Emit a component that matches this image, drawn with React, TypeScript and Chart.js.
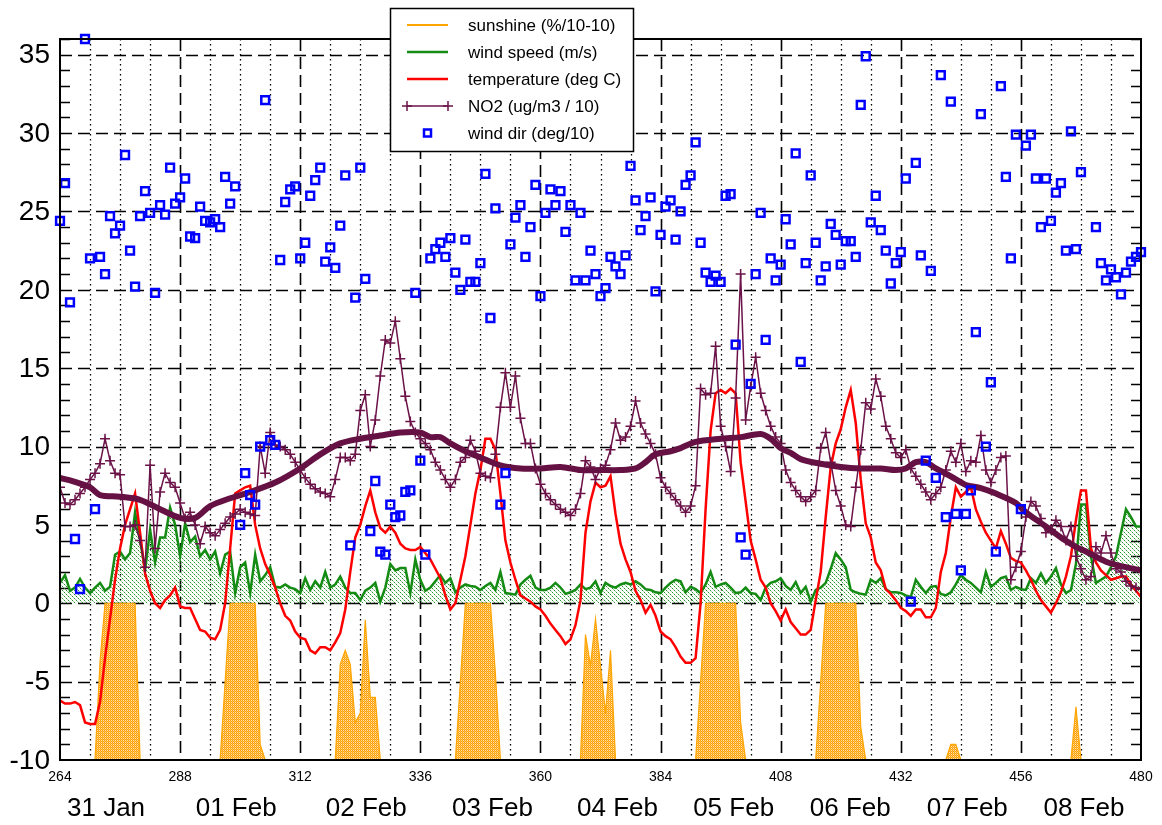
import React, { useEffect, useRef } from 'react';
import { Chart, registerables } from 'chart.js';

Chart.register(...registerables);

const FIRST_HOUR = 264;
const LAST_HOUR = 480;
const X_TICKS = [264, 288, 312, 336, 360, 384, 408, 432, 456, 480];
const Y_TICKS = [-10, -5, 0, 5, 10, 15, 20, 25, 30, 35];
const DAY_LABELS = ['31 Jan', '01 Feb', '02 Feb', '03 Feb', '04 Feb', '05 Feb', '06 Feb', '07 Feb', '08 Feb'];
const DAY_LABEL_HOURS = [273.2, 299.2, 325.2, 350.4, 375.4, 398.6, 421.9, 445.3, 468.6];

// hourly series, hour 264 .. 480
const temperature = [
  -6.2, -6.4, -6.4, -6.3, -6.5, -7.6, -7.7, -7.7, -6.3, -3.5,
  -1.0, 1.5, 3.5, 5.0, 6.0, 7.0, 4.5, 1.9, 0.8, 0.0,
  -0.3, 0.2, 0.5, 1.0, -0.2, -0.3, -0.3, -1.0, -1.7, -1.8,
  -2.2, -2.3, -1.7, 0.0, 3.5, 7.0, 7.2, 7.4, 7.5, 5.0,
  3.5, 2.5, 1.8, 1.0, 0.0, -0.8, -1.1, -1.8, -2.2, -2.3,
  -3.0, -3.2, -2.8, -2.8, -3.0, -2.5, -1.9, -0.4, 2.0, 4.2,
  5.0, 6.2, 7.2, 5.8, 4.8, 4.5, 4.9, 4.5, 3.8, 3.5,
  3.4, 3.4, 3.6, 3.2, 2.8, 2.2, 1.6, 0.5, -0.4, 0.0,
  1.5, 3.0, 5.0, 7.0, 8.5, 10.5, 10.5, 9.8, 7.0, 4.0,
  2.6, 1.5, 0.5, 0.3, 0.1, -0.2, -0.4, -0.8, -1.3, -1.7,
  -2.1, -2.6, -2.3, -1.4, 0.2, 4.5, 6.5, 7.7, 7.4, 7.5,
  8.1, 5.7, 3.8, 2.8, 2.0, 0.8, 0.2, -0.6, -0.1, -0.8,
  -1.8, -2.1, -2.3, -2.8, -3.4, -3.8, -3.8, -3.5, 0.0, 6.0,
  11.0, 13.4, 13.6, 13.4, 13.7, 13.4, 9.0, 6.5, 4.0, 2.8,
  1.5, 1.0, 0.0, -0.5, -1.1, -0.4, -1.2, -1.6, -2.0, -2.0,
  -1.7, 0.2, 2.0, 5.5, 8.7, 10.2, 11.1, 12.5, 13.6, 11.5,
  7.9, 5.1, 4.2, 2.6, 2.1, 0.9, 0.6, 0.2, -0.3, -0.5,
  -0.8, -0.4, -0.4, -0.9, -0.9, -0.3, 2.0, 3.2, 5.5, 7.4,
  6.8, 7.1, 7.4, 6.0, 5.2, 4.5, 4.0, 3.5, 4.6, 3.8,
  2.9, 2.7, 2.6, 2.1, 1.5, 0.8, 0.2, -0.2, -0.6, 0.0,
  0.7, 1.7, 3.0, 5.3, 7.2, 7.2, 3.5, 2.6, 2.1, 1.8,
  1.5, 1.6, 1.7, 1.7, 1.2, 0.8, 0.4,
];

const windSpeed = [
  1.3, 1.8, 0.8, 1.0, 1.55, 1.0, 0.65, 1.0, 1.3, 0.8,
  1.05, 3.1, 3.3, 2.8, 3.2, 5.8, 4.05, 2.1, 4.7, 2.6,
  4.2, 4.2, 6.1, 5.0, 3.0, 5.1, 3.9, 4.25, 3.0, 3.4,
  2.8, 3.3, 1.9, 3.1, 3.3, 0.65, 2.3, 2.6, 0.65, 3.1,
  1.4, 1.8, 2.3, 1.05, 1.0, 1.2, 1.0, 0.9, 0.65, 1.6,
  0.85, 1.4, 1.0, 2.0, 1.0, 1.2, 1.7, 1.0, 0.65, 0.65,
  0.2, 0.8, 1.0, 1.3, 0.1, 1.0, 2.5, 2.1, 2.25, 2.25,
  0.65, 2.8, 1.5, 0.8, 1.0, 1.4, 1.8, 1.3, 1.6, 0.7,
  1.0, 1.2, 1.1, 1.05, 0.85, 1.1, 1.3, 0.85, 2.0, 0.65,
  0.6, 0.55, 1.2, 1.5, 1.75, 1.0, 0.85, 0.85, 1.0, 1.3,
  1.0, 0.6, 0.7, 0.85, 1.2, 0.9, 1.0, 1.4, 0.65, 1.3,
  1.1, 1.0, 1.2, 1.3, 1.2, 1.4, 1.2, 0.9, 0.85, 0.7,
  0.65, 1.0, 1.3, 1.5, 1.4, 0.7, 1.05, 0.9, 0.65, 1.2,
  2.0, 1.05, 1.2, 1.3, 1.0, 0.65, 0.7, 1.0, 0.65, 0.6,
  0.2, 1.0, 1.3, 1.4, 1.6, 1.1, 0.85, 1.35, 0.65, 1.05,
  0.1, 0.85, 1.0, 1.3, 2.2, 3.2, 2.8, 2.3, 0.85, 0.7,
  0.6, 0.55, 1.5, 1.3, 1.6, 0.9, 0.7, 0.7, 0.65, 0.5,
  0.4, 1.5, 1.05, 0.65, 1.05, 1.1, 0.6, 0.5, 0.7, 1.2,
  1.8, 1.5, 1.3, 1.0, 0.7, 2.0, 1.05, 1.3, 1.6, 1.7,
  0.85, 1.05, 0.9, 0.85, 1.6, 1.3, 1.9, 1.3, 1.7, 2.25,
  1.2, 0.65, 0.85, 2.5, 6.3, 6.3, 3.0, 1.3, 1.5, 1.7,
  2.3, 3.0, 4.5, 6.0, 5.5, 4.9, 4.9,
];

const no2 = [
  7.4, 6.4, 6.3, 6.6, 7.0, 7.4, 7.9, 8.3, 8.9, 10.5,
  9.1, 8.3, 8.2, 4.9, 4.9, 5.0, 4.0, 2.3, 8.8, 3.5,
  7.1, 8.3, 7.7, 7.4, 6.4, 5.4, 5.8, 5.0, 3.8, 4.9,
  4.5, 4.3, 4.7, 5.1, 5.5, 5.7, 6.0, 5.8, 5.7, 5.6,
  10.0, 8.3, 10.9, 10.1, 10.0, 9.8, 9.5, 9.0, 8.5, 8.0,
  7.6, 7.3, 7.1, 7.0, 6.8, 7.9, 9.3, 9.3, 9.1, 9.5,
  12.3, 13.3, 10.0, 11.7, 14.5, 16.8, 16.6, 18.0, 15.6, 13.2,
  11.6, 10.9, 10.5, 10.2, 9.8, 9.0, 8.5, 7.9, 7.4, 7.9,
  9.0, 9.3, 10.4, 9.7, 8.3, 8.1, 8.0, 9.5, 12.5, 14.7,
  12.5, 14.5, 11.8, 10.2, 10.2, 8.6, 7.6, 7.0, 6.6, 6.3,
  6.0, 5.8, 5.6, 6.0, 7.0, 9.1, 8.7, 7.9, 8.6, 8.8,
  9.8, 11.5, 10.4, 10.6, 11.3, 12.9, 11.5, 10.8, 10.2, 9.5,
  8.0, 7.4, 7.0, 6.6, 6.2, 5.8, 6.2, 7.5, 13.7, 13.3,
  13.4, 16.4, 11.3, 10.0, 8.4, 13.1, 21.0, 11.7, 13.8, 15.7,
  13.4, 12.3, 11.3, 10.6, 10.2, 8.5, 7.7, 7.2, 6.8, 6.5,
  6.8, 7.2, 9.9, 10.9, 9.0, 7.2, 6.2, 5.0, 4.9, 7.4,
  9.8, 12.8, 12.4, 14.3, 13.2, 11.3, 10.5, 9.6, 9.3, 9.8,
  8.6, 8.1, 7.6, 7.1, 6.6, 7.0, 7.4, 8.5, 9.7, 9.0,
  10.2, 8.4, 9.1, 9.0, 10.7, 8.5, 7.7, 8.5, 9.3, 9.4,
  1.5, 2.3, 3.3, 5.5, 6.5, 6.2, 5.4, 4.5, 4.7, 5.3,
  4.9, 4.0, 4.9, 3.0, 2.2, 1.5, 1.7, 3.6, 3.2, 4.3,
  3.2, 2.2, 2.0, 1.4, 1.1, 1.0, 0.9,
];

const windDir = [
  24.4, 26.8, 19.2, 4.1, 0.9, 36.0, 22.0, 6.0, 22.1, 21.0,
  24.7, 23.6, 24.1, 28.6, 22.5, 20.2, 24.7, 26.3, 24.9, 19.8,
  25.4, 24.8, 27.8, 25.5, 25.9, 27.1, 23.4, 23.3, 25.3, 24.4,
  24.3, 24.5, 24.0, 27.2, 25.5, 26.6, 5.0, 8.3, 6.9, 6.3,
  10.0, 32.1, 10.4, 10.1, 21.9, 25.6, 26.4, 26.6, 22.0, 23.0,
  26.0, 27.0, 27.8, 21.8, 22.7, 21.4, 24.1, 27.3, 3.7, 19.5,
  27.8, 20.7, 4.6, 7.8, 3.3, 3.1, 6.3, 5.5, 5.6, 7.1,
  7.2, 19.8, 9.1, 3.1, 22.0, 22.6, 23.0, 22.1, 23.3, 21.1,
  20.0, 23.2, 20.5, 20.5, 21.7, 27.4, 18.2, 25.2, 6.3, 8.3,
  22.9, 24.6, 25.4, 22.1, 24.0, 26.7, 19.6, 24.9, 26.4, 25.4,
  26.3, 23.7, 25.4, 20.6, 24.9, 20.6, 22.5, 21.0, 19.6, 20.1,
  22.1, 21.5, 21.0, 22.2, 27.9, 25.7, 23.8, 24.7, 25.9, 19.9,
  23.5, 25.3, 25.7, 23.2, 25.0, 26.7, 27.3, 29.4, 23.0, 21.1,
  20.5, 20.9, 20.5, 26.0, 26.1, 16.5, 4.2, 3.1, 14.0, 21.0,
  24.9, 16.8, 22.0, 20.6, 21.6, 24.5, 22.9, 28.7, 15.4, 21.7,
  27.3, 23.0, 20.6, 21.5, 24.2, 23.5, 21.6, 23.1, 23.1, 22.1,
  31.8, 34.9, 24.3, 26.0, 23.8, 22.5, 20.4, 21.7, 22.4, 27.1,
  0.1, 28.1, 22.2, 9.1, 21.2, 8.0, 33.7, 5.5, 32.0, 5.7,
  2.1, 5.7, 7.2, 17.3, 31.2, 10.0, 14.1, 3.3, 33.0, 27.2,
  22.0, 29.9, 6.0, 29.2, 29.9, 27.1, 24.0, 27.1, 24.4, 26.2,
  26.8, 22.5, 30.1, 22.6, 27.5, null, null, 24.0, 21.7, 20.6,
  21.3, 20.8, 19.7, 21.1, 21.8, 22.1, 22.4,
];

// break points of the sunshine curve
const sunshineHours = [
  264, 271, 272, 273, 279, 280, 296, 297, 298, 303, 304, 305,
  319, 320, 321, 322, 323, 324, 325, 326, 327, 328,
  343, 344, 345, 350, 351, 352,
  368, 369, 370, 371, 372, 373, 374, 375,
  391, 392, 393, 399, 400, 401,
  415, 416, 417, 423, 424, 425,
  441, 442, 443, 444, 466, 467, 468, 480,
];
const sunshineValues = [
  -10, -10, -3.7, 0, 0, -10, -10, -5, 0, 0, -9, -10,
  -10, -3.9, -3.0, -3.9, -7.6, -7.0, -1.05, -6.0, -6.0, -10,
  -10, -5, 0, 0, -4.5, -10,
  -10, -2.0, -4.0, -1.0, -4.0, -7.0, -3.0, -10,
  -10, -5, 0, 0, -7.6, -10,
  -10, -5, 0, 0, -7.9, -10,
  -10, -9, -9, -10, -10, -6.6, -10, -10,
];

// smoothed NO2 curve
const no2SmoothHours = [
  264, 267, 270, 272, 276, 280, 284, 288, 291, 294, 298, 302, 307, 312, 316, 320,
  324, 328, 332, 336, 338, 340, 342, 345, 348, 352, 356, 360, 364, 368, 372, 376,
  379, 381, 383, 386, 388, 391, 396, 400, 404, 406, 408, 410, 412, 416, 420, 424,
  428, 431, 433, 435, 437, 439, 442, 445, 448, 451, 455, 457, 461, 464, 467, 469,
  473, 477, 480,
];
const no2SmoothValues = [
  8.0, 7.75, 7.4, 6.9, 6.8, 6.6, 6.0, 5.45, 5.45, 6.2, 6.7, 7.1, 7.7, 8.6, 9.5, 10.2,
  10.5, 10.7, 10.9, 10.9, 10.6, 10.6, 10.2, 9.7, 9.3, 8.8, 8.6, 8.6, 8.7, 8.5, 8.5, 8.5,
  8.6, 9.0, 9.5, 9.7, 9.9, 10.3, 10.5, 10.6, 10.8, 10.5, 9.9, 9.6, 9.2, 8.9, 8.7, 8.6,
  8.6, 8.5, 8.6, 9.0, 9.0, 8.6, 8.1, 7.55, 7.35, 7.0, 6.4, 5.8, 4.9, 4.2, 3.6, 3.3,
  2.65, 2.3, 2.1,
];

const COLORS = {
  sunshine: '#FFA500',
  wind: '#148C14',
  temp: '#FF0000',
  no2: '#6B1248',
  smooth: '#661144',
  dir: '#0000FF',
};

const FONT = '"Liberation Sans", Arial, Helvetica, sans-serif';

const hourly = (arr: (number | null)[]) => arr.map((v, i) => ({ x: FIRST_HOUR + i, y: v }));
const paired = (xs: number[], ys: number[]) => xs.map((x, i) => ({ x, y: ys[i] }));

function makePattern(bg: string, cells: [number, number, string][], size: number) {
  const c = document.createElement('canvas');
  c.width = size;
  c.height = size;
  const g = c.getContext('2d')!;
  g.fillStyle = bg;
  g.fillRect(0, 0, size, size);
  cells.forEach(([cx, cy, col]) => {
    g.fillStyle = col;
    g.fillRect(cx, cy, 1, 1);
  });
  return g.createPattern(c, 'repeat')!;
}

const decorPlugin = {
  id: 'decor',
  beforeDatasetsDraw(chart: any) {
    const { ctx, chartArea: a, scales } = chart;
    const x = scales.x;
    const y = scales.y;
    ctx.save();
    ctx.strokeStyle = '#000';
    // vertical grid
    for (let h = FIRST_HOUR + 6; h < LAST_HOUR; h += 6) {
      const px = Math.round(x.getPixelForValue(h)) + 0.5;
      const major = (h - FIRST_HOUR) % 24 === 0;
      ctx.setLineDash(major ? [12, 6] : [1.5, 3.5]);
      ctx.lineWidth = major ? 1.6 : 1.3;
      ctx.beginPath();
      ctx.moveTo(px, a.top);
      ctx.lineTo(px, a.bottom);
      ctx.stroke();
    }
    // horizontal grid
    Y_TICKS.forEach((v) => {
      if (v <= -10) return;
      const py = Math.round(y.getPixelForValue(v)) + 0.5;
      ctx.setLineDash([12, 6]);
      ctx.lineWidth = 1.6;
      ctx.beginPath();
      ctx.moveTo(a.left, py);
      ctx.lineTo(a.right, py);
      ctx.stroke();
    });
    // minor y ticks on both sides
    ctx.setLineDash([]);
    ctx.lineWidth = 1.3;
    for (let v = -9; v <= 36; v++) {
      if (v % 5 === 0) continue;
      const py = Math.round(y.getPixelForValue(v)) + 0.5;
      ctx.beginPath();
      ctx.moveTo(a.left, py);
      ctx.lineTo(a.left + 10, py);
      ctx.moveTo(a.right - 10, py);
      ctx.lineTo(a.right, py);
      ctx.stroke();
    }
    ctx.restore();
  },
  afterDatasetsDraw(chart: any) {
    const { ctx, chartArea: a } = chart;
    ctx.save();
    ctx.strokeStyle = '#000';
    ctx.lineWidth = 2;
    ctx.setLineDash([]);
    ctx.strokeRect(a.left, a.top, a.right - a.left, a.bottom - a.top);
    ctx.restore();
  },
  afterDraw(chart: any) {
    const { ctx, scales } = chart;
    const x = scales.x;
    const y = scales.y;
    ctx.save();
    ctx.fillStyle = '#000';
    // y tick labels
    ctx.font = `28px ${FONT}`;
    ctx.textAlign = 'right';
    ctx.textBaseline = 'middle';
    Y_TICKS.forEach((v) => ctx.fillText(String(v), 50, y.getPixelForValue(v) + 1));
    // x tick labels
    ctx.font = `14px ${FONT}`;
    ctx.textAlign = 'center';
    X_TICKS.forEach((h) => ctx.fillText(String(h), x.getPixelForValue(h), 777));
    // day labels
    ctx.font = `26px ${FONT}`;
    DAY_LABELS.forEach((t, i) => ctx.fillText(t, x.getPixelForValue(DAY_LABEL_HOURS[i]), 809));

    // legend
    const L = 390, T = 8, W = 243, H = 143;
    ctx.fillStyle = '#fff';
    ctx.fillRect(L, T, W, H);
    ctx.strokeStyle = '#000';
    ctx.lineWidth = 1.5;
    ctx.strokeRect(L + 0.5, T + 0.5, W, H);
    const rows = [
      { label: 'sunshine (%/10-10)', color: COLORS.sunshine, w: 2, kind: 'line' },
      { label: 'wind speed (m/s)', color: COLORS.wind, w: 2.5, kind: 'line' },
      { label: 'temperature (deg C)', color: COLORS.temp, w: 2.5, kind: 'line' },
      { label: 'NO2 (ug/m3 / 10)', color: COLORS.no2, w: 1.5, kind: 'cross' },
      { label: 'wind dir (deg/10)', color: COLORS.dir, w: 2.5, kind: 'square' },
    ];
    rows.forEach((r, i) => {
      const ry = T + 17 + i * 27;
      ctx.strokeStyle = r.color;
      ctx.lineWidth = r.w;
      if (r.kind === 'line' || r.kind === 'cross') {
        ctx.beginPath();
        ctx.moveTo(407, ry);
        ctx.lineTo(448, ry);
        ctx.stroke();
      }
      if (r.kind === 'cross') {
        [407, 448].forEach((cx) => {
          ctx.beginPath();
          ctx.moveTo(cx - 5, ry);
          ctx.lineTo(cx + 5, ry);
          ctx.moveTo(cx, ry - 5);
          ctx.lineTo(cx, ry + 5);
          ctx.stroke();
        });
      }
      if (r.kind === 'square') {
        ctx.strokeRect(424, ry - 3.5, 7, 7);
      }
      ctx.fillStyle = '#000';
      ctx.font = `17px ${FONT}`;
      ctx.textAlign = 'left';
      ctx.textBaseline = 'middle';
      ctx.fillText(r.label, 468, ry + 1);
    });
    ctx.restore();
  },
};

export default function App() {
  const ref = useRef<HTMLCanvasElement>(null);
  useEffect(() => {
    const orangeFill = makePattern('#FFC04D', [[0, 0, '#FFA000'], [1, 1, '#FFA000'], [1, 0, '#FFE2B0']], 2);
    const greenFill = makePattern(
      'rgba(255,255,255,0)',
      [[0, 0, '#2A962A'], [2, 2, '#2A962A'], [1, 1, 'rgba(60,160,60,0.45)'], [3, 3, 'rgba(60,160,60,0.45)']],
      4,
    );
    const chart = new Chart(ref.current!, {
      type: 'line',
      data: {
        datasets: [
          {
            label: 'wind dir (deg/10)',
            data: hourly(windDir),
            showLine: false,
            pointStyle: 'rect',
            pointRadius: 5.5,
            pointBorderWidth: 2.5,
            pointBorderColor: COLORS.dir,
            pointBackgroundColor: 'rgba(0,0,0,0)',
            borderColor: COLORS.dir,
            clip: false,
            order: 0,
          },
          {
            label: 'NO2 smoothed',
            data: paired(no2SmoothHours, no2SmoothValues),
            borderColor: COLORS.smooth,
            borderWidth: 6,
            pointRadius: 0,
            borderCapStyle: 'round',
            borderJoinStyle: 'round',
            tension: 0.3,
            order: 1,
          },
          {
            label: 'NO2 (ug/m3 / 10)',
            data: hourly(no2),
            borderColor: COLORS.no2,
            borderWidth: 1.5,
            pointStyle: 'cross',
            pointRadius: 5,
            pointBorderWidth: 1.5,
            pointBorderColor: COLORS.no2,
            order: 2,
          },
          {
            label: 'temperature (deg C)',
            data: hourly(temperature),
            borderColor: COLORS.temp,
            borderWidth: 2.5,
            pointRadius: 0,
            order: 3,
          },
          {
            label: 'wind speed (m/s)',
            data: hourly(windSpeed),
            borderColor: COLORS.wind,
            borderWidth: 2.5,
            backgroundColor: greenFill,
            fill: 'origin',
            pointRadius: 0,
            order: 4,
          },
          {
            label: 'sunshine (%/10-10)',
            data: paired(sunshineHours, sunshineValues),
            borderColor: COLORS.sunshine,
            borderWidth: 1.2,
            backgroundColor: orangeFill,
            fill: 'start',
            pointRadius: 0,
            order: 5,
          },
        ],
      },
      options: {
        responsive: false,
        animation: false,
        events: [],
        layout: { padding: { top: 39, right: 21, left: 0, bottom: 0 } },
        scales: {
          x: {
            type: 'linear',
            min: FIRST_HOUR,
            max: LAST_HOUR,
            ticks: { display: false },
            grid: { display: false },
            border: { display: false },
            afterFit: (s: any) => { s.height = 65; },
          },
          y: {
            type: 'linear',
            min: -10,
            max: 36,
            ticks: { display: false },
            grid: { display: false },
            border: { display: false },
            afterFit: (s: any) => { s.width = 60; },
          },
        },
        plugins: {
          legend: { display: false },
          tooltip: { enabled: false },
        },
      },
      plugins: [decorPlugin],
    } as any);
    return () => chart.destroy();
  }, []);
  return (
    <div style={{ position: 'fixed', left: 0, top: 0, width: 1162, height: 825, background: '#fff' }}>
      <canvas ref={ref} width={1162} height={825} style={{ display: 'block' }} />
    </div>
  );
}
